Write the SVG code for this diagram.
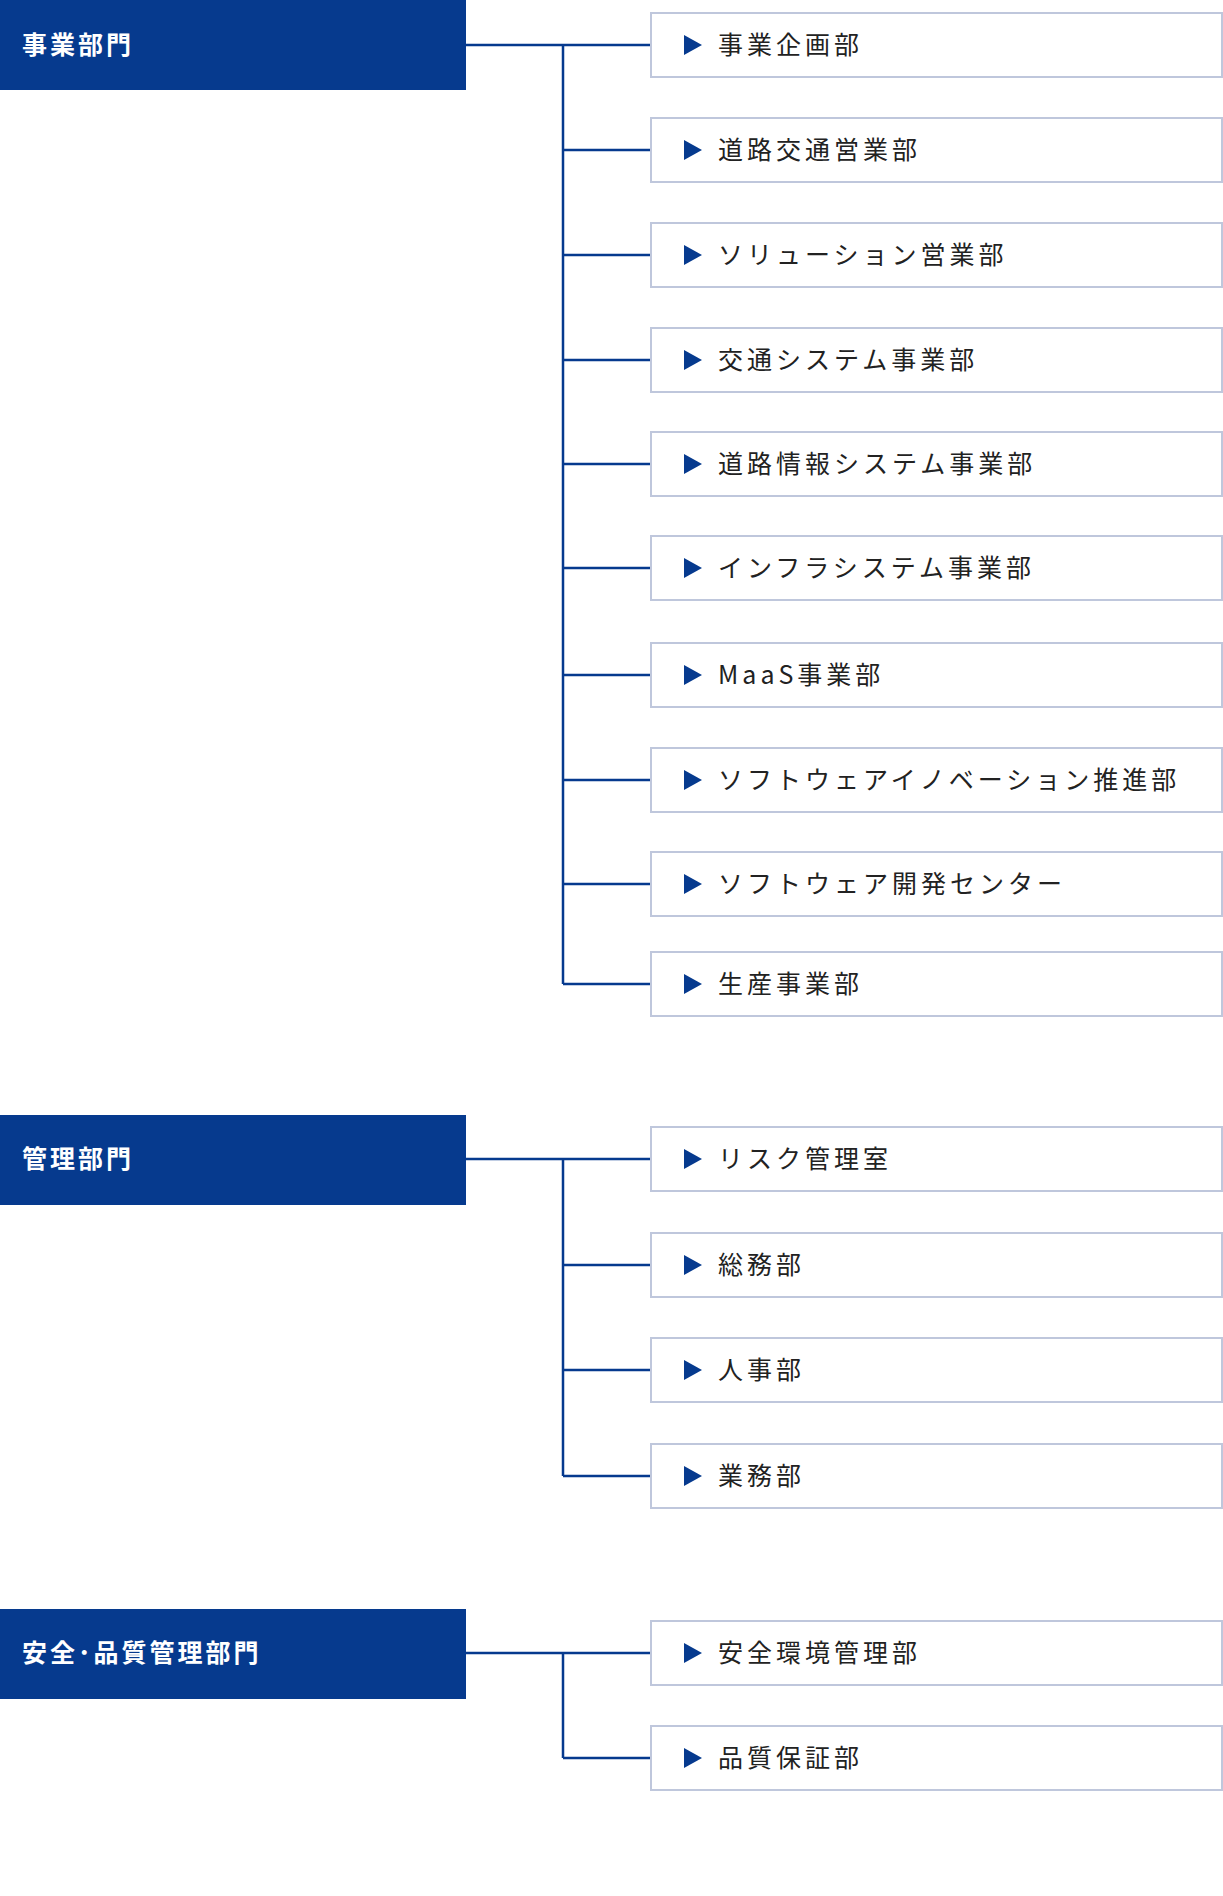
<svg xmlns="http://www.w3.org/2000/svg" width="1223" height="1896" viewBox="0 0 1223 1896">
<style>
.h{fill:#063a8e}
.ht{fill:#fff;font-family:"Noto Sans CJK JP",sans-serif;font-weight:bold;font-size:25px;letter-spacing:3px}
.b{fill:#fff;stroke:#bfc7dc;stroke-width:2}
.t{fill:#222;font-family:"Noto Sans CJK JP",sans-serif;font-size:25px;letter-spacing:4px}
.tri{fill:#063a8e}
.c{stroke:#063a8e;stroke-width:2.5;fill:none}
</style>
<rect width="1223" height="1896" fill="#fff"/>
<g id="connectors" class="c">
<path d="M466 45H650M563 45V984M563 150H650M563 255H650M563 360H650M563 464H650M563 568H650M563 675H650M563 780H650M563 884H650M563 984H650"/>
<path d="M466 1159H650M563 1159V1476M563 1265H650M563 1370H650M563 1476H650"/>
<path d="M466 1653H650M563 1653V1758M563 1758H650"/>
</g>
<g id="h1"><rect class="h" x="0" y="0" width="466" height="90"/><text class="ht" x="22" y="54">事業部門</text></g>
<g id="h2"><rect class="h" x="0" y="1115" width="466" height="90"/><text class="ht" x="22" y="1168">管理部門</text></g>
<g id="h3"><rect class="h" x="0" y="1609" width="466" height="90"/><text class="ht" x="22" y="1662">安全･品質管理部門</text></g>
<defs><g id="n"><rect class="b" x="651" y="-32" width="571" height="64"/><path class="tri" d="M684 -10L702 0L684 10Z"/></g></defs>
<g id="n1"><use href="#n" y="45"/><text class="t" x="718" y="54">事業企画部</text></g>
<g id="n2"><use href="#n" y="150"/><text class="t" x="718" y="159">道路交通営業部</text></g>
<g id="n3"><use href="#n" y="255"/><text class="t" x="718" y="264">ソリューション営業部</text></g>
<g id="n4"><use href="#n" y="360"/><text class="t" x="718" y="369">交通システム事業部</text></g>
<g id="n5"><use href="#n" y="464"/><text class="t" x="718" y="473">道路情報システム事業部</text></g>
<g id="n6"><use href="#n" y="568"/><text class="t" x="718" y="577">インフラシステム事業部</text></g>
<g id="n7"><use href="#n" y="675"/><text class="t" x="718" y="684">MaaS事業部</text></g>
<g id="n8"><use href="#n" y="780"/><text class="t" x="718" y="789">ソフトウェアイノベーション推進部</text></g>
<g id="n9"><use href="#n" y="884"/><text class="t" x="718" y="893">ソフトウェア開発センター</text></g>
<g id="n10"><use href="#n" y="984"/><text class="t" x="718" y="993">生産事業部</text></g>
<g id="n11"><use href="#n" y="1159"/><text class="t" x="718" y="1168">リスク管理室</text></g>
<g id="n12"><use href="#n" y="1265"/><text class="t" x="718" y="1274">総務部</text></g>
<g id="n13"><use href="#n" y="1370"/><text class="t" x="718" y="1379">人事部</text></g>
<g id="n14"><use href="#n" y="1476"/><text class="t" x="718" y="1485">業務部</text></g>
<g id="n15"><use href="#n" y="1653"/><text class="t" x="718" y="1662">安全環境管理部</text></g>
<g id="n16"><use href="#n" y="1758"/><text class="t" x="718" y="1767">品質保証部</text></g>
</svg>
